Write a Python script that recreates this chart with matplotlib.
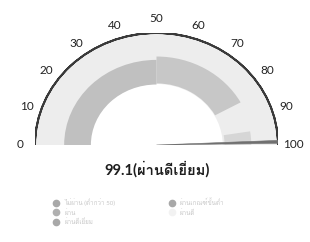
import numpy as np
import matplotlib
matplotlib.use("Agg")
import matplotlib.pyplot as plt
from matplotlib import font_manager
from matplotlib.ft2font import FT2Font
from matplotlib.lines import Line2D
from matplotlib.patches import Wedge, Polygon

# ---- data ----
score = 99.1
grade = "ผ่านดีเยี่ยม"
tick_values = [0, 10, 20, 30, 40, 50, 60, 70, 80, 90, 100]
band_start = [0, 50, 95]
band_end = [50, 84, 100]
legend_labels = ["ไม่ผ่าน (ต่ำกว่า 50)", "ผ่าน", "ผ่านดีเยี่ยม",
                 "ผ่านเกณฑ์ขั้นต่ำ", "ผ่านดี"]

# ---- styles ----
band_inner = [0.54, 0.55, 0.56]
band_outer = [0.76, 0.79, 0.78]
band_colors = ["#c0c0c0", "#c7c7c7", "#d6d6d6"]
legend_colors = ["#a8a8a8", "#b0b0b0", "#a8a8a8", "#a8a8a8", "#f2f2f2"]


# buscar una fuente con tailandes
def find_font(ch):
    for f in font_manager.fontManager.ttflist:
        try:
            if FT2Font(f.fname).get_char_index(ord(ch)):
                return f.name
        except Exception:
            pass
    return None


thai = find_font("ผ")
families = ["Lato"] + ([thai] if thai else []) + ["DejaVu Sans"]
plt.rcParams["font.family"] = families


# valor -> angulo en grados (0 a la izquierda, 100 a la derecha)
def angle(v):
    return 180.0 * (1 - v / 100.0)


fig = plt.figure(figsize=(3.10, 2.42), dpi=100)
ax = fig.add_axes([35 / 310, 97 / 242, 243 / 310, 112 / 242])
ax.set_xlim(-1, 1)
ax.set_ylim(0, 1)
ax.set_aspect("auto")
ax.axis("off")

# fondo claro
ax.add_patch(Wedge((0, 0), 1.0, 0, 180, width=1 - 0.545, color="#ededed", linewidth=0))

# bandas
for s, e, ri, ro, c in zip(band_start, band_end, band_inner, band_outer, band_colors):
    ax.add_patch(Wedge((0, 0), ro, angle(e), angle(s), width=ro - ri, color=c, linewidth=0))

# arco exterior
ax.add_patch(Wedge((0, 0), 1.0, 0, 180, width=0.0001, fill=False,
                   edgecolor="#3a3a3a", linewidth=1.4))

# aguja
a = np.radians(angle(score))
da = 0.013
ax.add_patch(Polygon([[0, 0], [np.cos(a - da), np.sin(a - da)], [np.cos(a + da), np.sin(a + da)]],
                     closed=True, color="#707070", linewidth=0.4))

# etiquetas
for v in tick_values:
    t = np.radians(angle(v))
    ax.text(1.125 * np.cos(t), 1.125 * np.sin(t), str(v), ha="center", va="center",
            fontsize=8.5, color="#222222", clip_on=False)

fig.text(157 / 310, 1 - 169 / 242, f"{score}({grade})", ha="center", va="center",
         fontsize=10.5, fontweight="bold", color="#1e1e1e")

handles = [Line2D([], [], marker="o", linestyle="none", markersize=4.5,
                  color=c) for c in legend_colors]
fig.legend(handles, legend_labels, loc="upper left", bbox_to_anchor=(48 / 310, 1 - 193 / 242),
           ncol=2, frameon=False, fontsize=4.5, handlelength=0.8, handletextpad=0.9,
           labelspacing=0.35, columnspacing=8.6, labelcolor="#c8c8c8")

fig.savefig("out.png", dpi=100)
